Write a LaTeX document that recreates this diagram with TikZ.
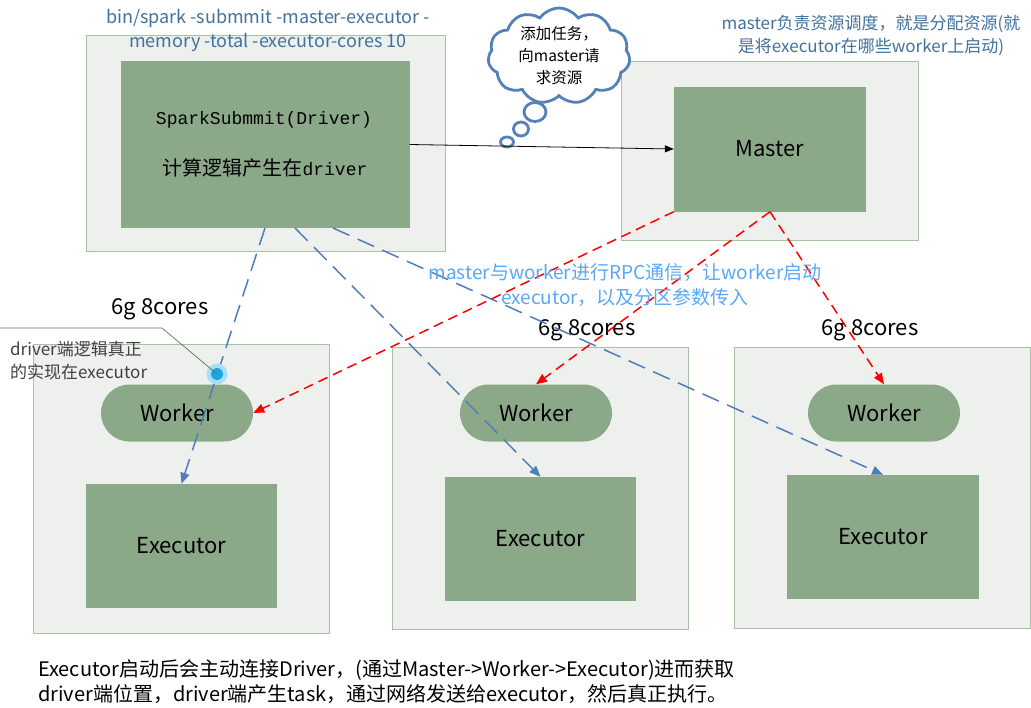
\documentclass[tikz,border=0pt]{standalone}
\usepackage{fontspec}
\setmainfont{Noto Sans CJK SC}
\newfontfamily\monofont{Liberation Mono}
\newfontfamily\cjkfont{Noto Sans CJK SC}
\usetikzlibrary{arrows.meta,shapes.misc,shapes.symbols,shapes.geometric}
\definecolor{outerfill}{HTML}{EEF0ED}
\definecolor{outerline}{HTML}{A9C0A6}
\definecolor{innerfill}{HTML}{8BA888}
\definecolor{titleblue}{HTML}{41719C}
\definecolor{rpcblue}{HTML}{5AA8F5}
\definecolor{dashblue}{HTML}{4F7DB8}
\definecolor{cloudblue}{HTML}{5581B8}
\definecolor{anntext}{HTML}{404040}
\definecolor{annline}{HTML}{5E715C}
\definecolor{glowc}{HTML}{A8DFF7}
\definecolor{dotc}{HTML}{1AA6E6}
\tikzset{
  outerbox/.style={draw=outerline, fill=outerfill, line width=0.8pt, rectangle, inner sep=0pt},
  innerbox/.style={fill=innerfill, rectangle, inner sep=0pt, font=\fontsize{22}{26}\selectfont},
  pillbox/.style={fill=innerfill, rounded rectangle, minimum width=152pt, minimum height=57pt, inner sep=0pt, font=\fontsize{22}{26}\selectfont},
  drvarrow/.style={draw=dashblue, line width=1.5pt, dash pattern=on 18pt off 9pt, -{Triangle[length=11pt,width=9pt]}},
  mstarrow/.style={draw=red, line width=1.5pt, dash pattern=on 10pt off 6pt, -{Triangle[length=11pt,width=9pt]}},
  coreslabel/.style={font=\fontsize{22}{26}\selectfont, inner sep=0pt},
  bubble/.style={ellipse, draw=cloudblue, line width=2.8pt, fill=white, inner sep=0pt},
}
\begin{document}
\begin{tikzpicture}[x=1pt,y=-1pt]
\useasboundingbox (0,0) rectangle (1031,707);
% driver
\node[outerbox, minimum width=359pt, minimum height=216pt] (drvout) at (265.5,143.5) {};
\node[innerbox, minimum width=289pt, minimum height=167pt] (drvin) at (265,144.5) {};
\node[inner sep=0pt, font=\fontsize{18}{22}\monofont] (drvT1) at (264,120) {SparkSubmmit(Driver)};
\node[inner sep=0pt, font=\fontsize{20}{24}\cjkfont] (drvT2) at (265,168) {计算逻辑产生在{\monofont\fontsize{18}{22}\selectfont driver}};
\node[align=center, text=titleblue, font=\fontsize{18}{24}\selectfont, inner sep=0pt] (title) at (268,30) {bin/spark -submmit -master-executor -\\memory -total -executor-cores 10};
% master
\node[outerbox, minimum width=297pt, minimum height=179pt] (mstout) at (769.5,150.5) {};
\node[innerbox, minimum width=192pt, minimum height=125pt] (mstin) at (770,149) {Master};
\node[align=center, text=titleblue, font=\fontsize{17}{23}\selectfont, inner sep=0pt] (mstnote) at (871,35.5) {master负责资源调度，就是分配资源(就\\是将executor在哪些worker上启动)};
% cloud
\node[cloud, cloud puffs=11, cloud puff arc=110, cloud ignores aspect, draw=cloudblue, line width=2.8pt, fill=white, minimum width=142pt, minimum height=88pt, inner sep=0pt, align=center, font=\fontsize{15.5}{22}\selectfont] (cloud) at (559,56) {添加任务，\\向master请\\求资源};
\node[bubble, minimum width=22pt, minimum height=19pt] (b1) at (535,112) {};
\node[bubble, minimum width=15pt, minimum height=14pt] (b2) at (521,129) {};
\node[bubble, minimum width=13pt, minimum height=10pt] (b3) at (507,142) {};
% workers
\node[outerbox, minimum width=296pt, minimum height=289pt] (w1) at (181,488.5) {};
\node[outerbox, minimum width=296pt, minimum height=282pt] (w2) at (540,488) {};
\node[outerbox, minimum width=296pt, minimum height=281pt] (w3) at (882,487.5) {};
\node[pillbox] (P1) at (177,413) {Worker};
\node[pillbox] (P2) at (536,413) {Worker};
\node[pillbox] (P3) at (884,413) {Worker};
\node[innerbox, minimum width=191pt, minimum height=124pt] (E1) at (181.5,546) {Executor};
\node[innerbox, minimum width=191pt, minimum height=124pt] (E2) at (540.5,539) {Executor};
\node[innerbox, minimum width=192pt, minimum height=124pt] (E3) at (883,537) {Executor};
\node[coreslabel] (c1) at (160,309) {6g 8cores};
\node[coreslabel] (c2) at (587,330) {6g 8cores};
\node[coreslabel] (c3) at (870,330) {6g 8cores};
% connectors
\draw[-{Triangle[length=9pt,width=7pt]}, line width=0.8pt] (drvin.east) -- (mstin.west);
\coordinate (d1) at (265,228);
\coordinate (d2) at (295,228);
\coordinate (d3) at (333,228);
\draw[drvarrow] (d1) -- (E1.north);
\draw[drvarrow] (d2) -- (E2.north);
\draw[drvarrow] (d3) -- (E3.north);
\draw[mstarrow] (mstin.south west) -- (P1.east);
\draw[mstarrow] (mstin.south) -- (P2.north);
\draw[mstarrow] (mstin.south) -- (P3.north);
\node[align=center, text=rpcblue, font=\fontsize{19}{25}\selectfont, inner sep=0pt] (rpc) at (625,285.5) {master与worker进行RPC通信，让worker启动\\executor，以及分区参数传入};
% annotation
\node[circle, fill=glowc, minimum size=21pt, inner sep=0pt] (glow) at (217,374) {};
\node[circle, fill=dotc, minimum size=12pt, inner sep=0pt] (dot) at (217,374) {};
\coordinate (annA) at (0,328);
\coordinate (annB) at (162,328);
\draw[annline, line width=0.7pt] (annA) -- (annB) -- (dot.center);
\node[anchor=west, align=left, text=anntext, font=\fontsize{17}{23}\selectfont, inner sep=0pt] (ann) at (10,360.5) {driver端逻辑真正\\的实现在executor};
% bottom note
\node[anchor=west, align=left, font=\fontsize{20}{25}\selectfont, inner sep=0pt] (note) at (38,681.5) {Executor启动后会主动连接Driver，(通过Master->Worker->Executor)进而获取\\driver端位置，driver端产生task，通过网络发送给executor，然后真正执行。};
\end{tikzpicture}
\end{document}
